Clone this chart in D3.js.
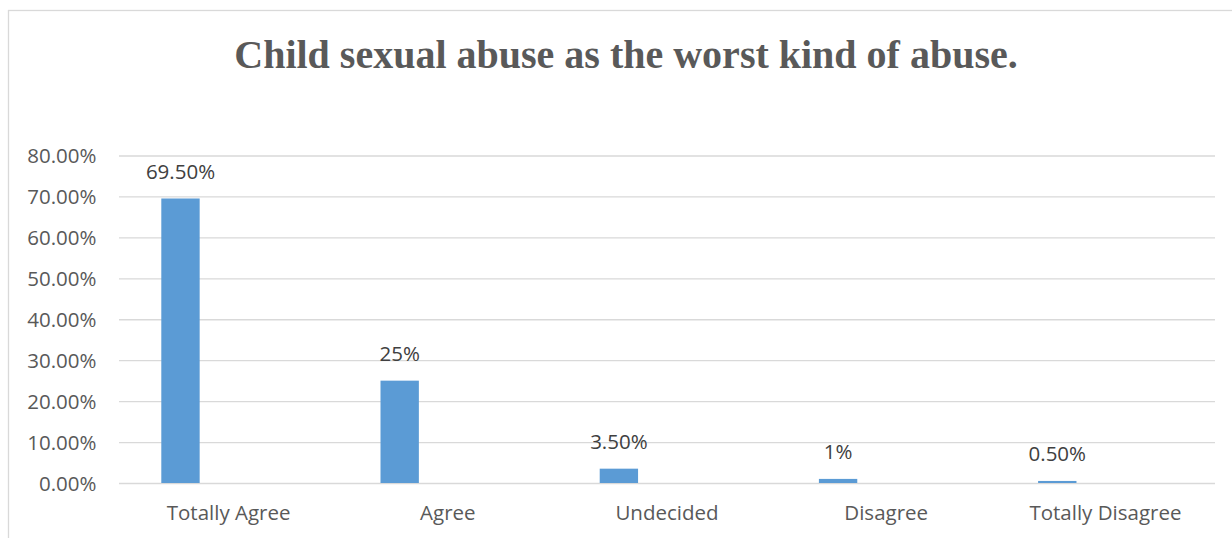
<!DOCTYPE html>
<html>
<head>
<meta charset="utf-8">
<script src="https://cdn.jsdelivr.net/npm/d3@7/dist/d3.min.js"></script>
<style>
  html, body { margin: 0; padding: 0; background: #fff; }
  svg { display: block; }
</style>
</head>
<body>
<svg id="chart" width="1232" height="538"></svg>
<script>
const categories = ["Totally Agree", "Agree", "Undecided", "Disagree", "Totally Disagree"];
const values = [69.5, 25, 3.5, 1, 0.5];
const valueLabels = ["69.50%", "25%", "3.50%", "1%", "0.50%"];
const yTicks = [0, 10, 20, 30, 40, 50, 60, 70, 80];
const title = "Child sexual abuse as the worst kind of abuse.";

const W = 1232, H = 538;
const margin = { left: 119, right: 17, top: 155.5, bottom: 55 };
const svg = d3.select("#chart");
const textColor = "#595959";
const labelColor = "#404040";
const gridColor = "#D9D9D9";
const barColor = "#5B9BD5";
const font = "'Open Sans', sans-serif";

// frame
svg.append("rect")
  .attr("x", 8.5).attr("y", 10.5)
  .attr("width", W).attr("height", H)
  .attr("fill", "none").attr("stroke", gridColor).attr("stroke-width", 1.3);

// title
svg.append("text")
  .attr("x", 626).attr("y", 67.5)
  .attr("text-anchor", "middle")
  .attr("font-family", "'Liberation Serif', 'Times New Roman', serif")
  .attr("font-weight", "bold")
  .attr("font-size", 40)
  .attr("fill", textColor)
  .text(title);

const x = d3.scaleBand().domain(categories).range([margin.left, W - margin.right]).paddingInner(0).paddingOuter(0);
const y = d3.scaleLinear().domain([0, 80]).range([483, margin.top]);

// gridlines
const yAxis = d3.axisLeft(y).tickValues(yTicks).tickSize(-(W - margin.right - margin.left)).tickFormat(d => d.toFixed(2) + "%");
const gy = svg.append("g").attr("transform", `translate(${margin.left},0)`).call(yAxis);
gy.select(".domain").remove();
gy.selectAll(".tick line").attr("stroke", gridColor).attr("stroke-width", 1.3);
gy.selectAll(".tick text")
  .attr("x", -22.5)
  .attr("dy", "0.36em")
  .attr("font-family", font).attr("font-size", 20.5)
  .attr("fill", textColor);

// bars
const barOffset = 0.193, barWidth = 0.175;
svg.append("g").selectAll("rect").data(values).join("rect")
  .attr("x", (d, i) => x(categories[i]) + x.bandwidth() * barOffset)
  .attr("width", x.bandwidth() * barWidth)
  .attr("y", d => y(d))
  .attr("height", d => y(0) - y(d))
  .attr("fill", barColor);

// value labels
svg.append("g").selectAll("text").data(values).join("text")
  .attr("x", (d, i) => x(categories[i]) + x.bandwidth() * (barOffset + barWidth / 2))
  .attr("y", d => y(d) - 19.5)
  .attr("text-anchor", "middle")
  .attr("font-family", font).attr("font-size", 20.5)
  .attr("fill", labelColor)
  .text((d, i) => valueLabels[i]);

// x axis labels
const xAxis = d3.axisBottom(x).tickSize(0);
const gx = svg.append("g").attr("transform", `translate(0,${y(0)})`).call(xAxis);
gx.select(".domain").remove();
gx.selectAll(".tick text")
  .attr("y", 37).attr("dy", 0)
  .attr("font-family", font).attr("font-size", 20.5)
  .attr("fill", textColor);
</script>
</body>
</html>
